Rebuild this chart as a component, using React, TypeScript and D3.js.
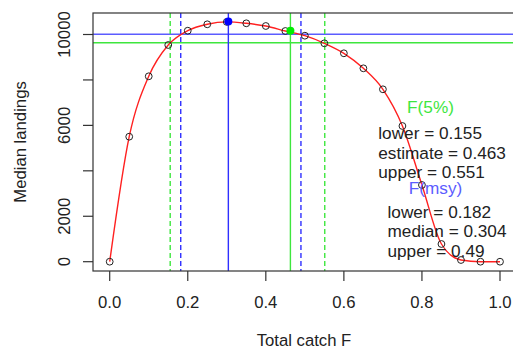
import React from 'react';
import * as d3 from 'd3';

// fishing mortality grid and median landings
const fValues = [0, 0.05, 0.1, 0.15, 0.2, 0.25, 0.3, 0.35, 0.4, 0.45, 0.5, 0.55, 0.6, 0.65, 0.7, 0.75, 0.8, 0.85, 0.9, 0.95, 1.0];
const landings = [0, 5502, 8160, 9538, 10167, 10449, 10555, 10493, 10374, 10154, 9947, 9613, 9173, 8512, 7588, 5973, 3376, 779, 75, 0, 0];

const xTicks = [0, 0.2, 0.4, 0.6, 0.8, 1.0];
const yTicks = [0, 2000, 4000, 6000, 8000, 10000];
const yTickLabels = ['0', '2000', '', '6000', '', '10000'];

// reference points
const fmsy = { lower: 0.182, median: 0.304, upper: 0.49, landings: 10573, hline: 10010 };
const f5 = { lower: 0.155, estimate: 0.463, upper: 0.551, landings: 10163, hline: 9640 };

const W = 513;
const H = 347;
const FONT = 'Liberation Sans, Arial, sans-serif';
const FS = 16.7;
const FS_NOTE = 17.2;

const BLUE_V = '#2f2fff';
const BLUE_H = '#5c5cff';
const GREEN = '#3ee63e';

const App: React.FC = () => {
  const x = d3.scaleLinear().domain([0, 1]).range([109.7, 500]);
  const y = d3.scaleLinear().domain([0, 10000]).range([261.7, 34.5]);

  const boxLeft = 93;
  const boxRight = x(1.04);
  const boxTop = 13;
  const boxBottom = 271;

  const line = d3.line<number>()
    .x((_, i) => x(fValues[i]))
    .y(d => y(d))
    .curve(d3.curveMonotoneX);

  const vline = (f: number, color: string, dashed: boolean, key: string) => (
    <line key={key} x1={x(f)} x2={x(f)} y1={boxTop} y2={boxBottom}
      stroke={color} strokeWidth={1.4} strokeDasharray={dashed ? '5,3' : undefined} />
  );

  return (
    <div style={{ position: 'fixed', left: 0, top: 0, width: W, height: H, background: '#fff' }}>
      <svg width={W} height={H} style={{ display: 'block' }} fontFamily={FONT}>
        <rect width={W} height={H} fill="#fff" />

        {/* horizontal reference lines */}
        <line x1={boxLeft} x2={W} y1={y(fmsy.hline)} y2={y(fmsy.hline)} stroke={BLUE_H} strokeWidth={1.6} />
        <line x1={boxLeft} x2={W} y1={y(f5.hline)} y2={y(f5.hline)} stroke={GREEN} strokeWidth={1.4} />

        {/* vertical reference lines */}
        {vline(f5.lower, GREEN, true, 'f5l')}
        {vline(fmsy.lower, BLUE_V, true, 'fml')}
        {vline(fmsy.median, BLUE_V, false, 'fmm')}
        {vline(f5.estimate, GREEN, false, 'f5e')}
        {vline(fmsy.upper, BLUE_V, true, 'fmu')}
        {vline(f5.upper, GREEN, true, 'f5u')}

        {/* curve */}
        <path d={line(landings) || ''} fill="none" stroke="#ff2020" strokeWidth={1.4} />

        {fValues.map((f, i) => (
          <circle key={i} cx={x(f)} cy={y(landings[i])} r={3.4} fill="none" stroke="#222" strokeWidth={1} />
        ))}

        <circle cx={x(fmsy.median)} cy={y(fmsy.landings)} r={4} fill="#0000ff" />
        <circle cx={x(f5.estimate)} cy={y(f5.landings)} r={4} fill="#00ee00" />

        {/* box */}
        <rect x={boxLeft} y={boxTop} width={boxRight - boxLeft} height={boxBottom - boxTop}
          fill="none" stroke="#333" strokeWidth={1.2} />

        {/* x axis */}
        {xTicks.map(t => (
          <g key={t}>
            <line x1={x(t)} x2={x(t)} y1={boxBottom} y2={boxBottom + 10} stroke="#333" strokeWidth={1.2} />
            <text x={x(t)} y={307.5} textAnchor="middle" fontSize={FS} fill="#222">{t.toFixed(1)}</text>
          </g>
        ))}
        <text x={304} y={345.5} textAnchor="middle" fontSize={FS} fill="#222">Total catch F</text>

        {/* y axis */}
        {yTicks.map((t, i) => (
          <g key={t}>
            <line x1={boxLeft} x2={boxLeft - 10} y1={y(t)} y2={y(t)} stroke="#333" strokeWidth={1.2} />
            {yTickLabels[i] && (
              <text transform={`translate(70,${y(t)}) rotate(-90)`} textAnchor="middle" fontSize={FS} fill="#222">
                {yTickLabels[i]}
              </text>
            )}
          </g>
        ))}
        <text transform={`translate(26,142) rotate(-90)`} textAnchor="middle" fontSize={FS} fill="#222">Median landings</text>

        {/* annotations */}
        <text x={430.5} y={113.3} textAnchor="middle" fontSize={FS_NOTE} fill={GREEN}>F(5%)</text>
        <text x={378.3} y={139.3} fontSize={FS_NOTE} fill="#222">lower = {f5.lower}</text>
        <text x={378.3} y={159} fontSize={FS_NOTE} fill="#222">estimate = {f5.estimate}</text>
        <text x={378.3} y={178.3} fontSize={FS_NOTE} fill="#222">upper = {f5.upper}</text>

        <text x={435.5} y={194} textAnchor="middle" fontSize={FS_NOTE} fill={BLUE_H}>F(msy)</text>
        <text x={387.5} y={217.7} fontSize={FS_NOTE} fill="#222">lower = {fmsy.lower}</text>
        <text x={387.5} y={237.3} fontSize={FS_NOTE} fill="#222">median = {fmsy.median}</text>
        <text x={387.5} y={256.7} fontSize={FS_NOTE} fill="#222">upper = {fmsy.upper}</text>
      </svg>
    </div>
  );
};

export default App;
